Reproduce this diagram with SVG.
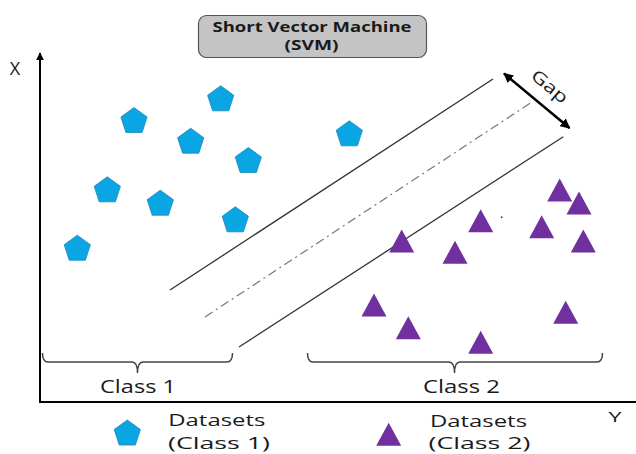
<svg xmlns="http://www.w3.org/2000/svg" width="636" height="454" viewBox="0 0 636 454">
<style>
.t{font-family:"Open Sans","Liberation Sans",sans-serif;fill:#1a1a1a}
.pent{fill:#0aa5e3;stroke:#1b86b8;stroke-width:0.8}
.tri{fill:#7030a0}
.axis{stroke:#000;stroke-width:2;fill:none}
.hyp{stroke:#333;stroke-width:1.3;fill:none}
.brace{stroke:#444;stroke-width:1.5;fill:none}
.lg{font-size:16px}
</style>
<defs>
<path id="pg" d="M0,-12.5 L13.1,-3 L8.1,12.5 L-8.1,12.5 L-13.1,-3 Z"/>
<path id="tg" d="M0,-11.5 L12.5,11.5 L-12.5,11.5 Z"/>
<marker id="ah" viewBox="0 0 10 10" refX="9" refY="5" markerWidth="4" markerHeight="4" orient="auto-start-reverse" markerUnits="strokeWidth">
<path d="M0,0 L10,5 L0,10 Z" fill="#000"/>
</marker>
</defs>
<rect width="636" height="454" fill="#fff"/>

<g id="title">
<rect x="198.5" y="15.5" width="228" height="42" rx="8" fill="#c4c4c4" stroke="#555" stroke-width="1.2"/>
<text class="t" x="312" y="31.5" font-size="14.5" font-weight="700" text-anchor="middle" textLength="199" lengthAdjust="spacingAndGlyphs">Short Vector Machine</text>
<text class="t" x="311.5" y="50" font-size="14.5" font-weight="700" text-anchor="middle" textLength="54" lengthAdjust="spacingAndGlyphs">(SVM)</text>
</g>

<g id="connectors">
<line class="axis" x1="40" y1="402" x2="40" y2="53" marker-end="url(#ah)"/>
<line class="axis" x1="39" y1="402" x2="640" y2="402"/>
<line class="hyp" x1="170" y1="290" x2="493" y2="79"/>
<line x1="205" y1="317" x2="530" y2="103.3" stroke="#777" stroke-width="1.2" stroke-dasharray="9 4 2 4"/>
<line class="hyp" x1="239" y1="347" x2="563.3" y2="136.7"/>
<line x1="504" y1="73.5" x2="569.5" y2="128" stroke="#000" stroke-width="2.5" marker-start="url(#ah)" marker-end="url(#ah)"/>
<path class="brace" d="M42.5,353 Q42.5,362 48,362 L132,362 Q137.5,362 137.5,373 Q137.5,362 143,362 L227,362 Q232.5,362 232.5,353"/>
<path class="brace" d="M307.5,353 Q307.5,362 313,362 L449,362 Q454.5,362 454.5,373 Q454.5,362 460,362 L597,362 Q602.5,362 602.5,353"/>
</g>

<g id="axis-labels">
<text class="t" x="15" y="75" font-size="18" text-anchor="middle">X</text>
<text class="t" x="615" y="421.5" font-size="15" text-anchor="middle" textLength="13" lengthAdjust="spacingAndGlyphs">Y</text>
<text class="t" x="0" y="0" font-size="17" text-anchor="middle" transform="translate(546,91) rotate(39.8)" textLength="42" lengthAdjust="spacingAndGlyphs">Gap</text>
<text class="t" x="138" y="392.5" font-size="19" text-anchor="middle" textLength="76" lengthAdjust="spacingAndGlyphs">Class 1</text>
<text class="t" x="461.5" y="392.5" font-size="19" text-anchor="middle" textLength="77" lengthAdjust="spacingAndGlyphs">Class 2</text>
</g>

<g id="class1-points">
<use href="#pg" class="pent" x="220.7" y="98.3"/>
<use href="#pg" class="pent" x="134" y="120"/>
<use href="#pg" class="pent" x="190.7" y="140.7"/>
<use href="#pg" class="pent" x="248.3" y="160"/>
<use href="#pg" class="pent" x="107.3" y="189.3"/>
<use href="#pg" class="pent" x="160.3" y="202.7"/>
<use href="#pg" class="pent" x="235.3" y="219.3"/>
<use href="#pg" class="pent" x="77.3" y="247.7"/>
<use href="#pg" class="pent" x="349.3" y="133.3"/>
</g>

<g id="class2-points">
<use href="#tg" class="tri" x="559.7" y="190"/>
<use href="#tg" class="tri" x="579" y="203"/>
<use href="#tg" class="tri" x="480.7" y="220.7"/>
<use href="#tg" class="tri" x="541.7" y="226.7"/>
<use href="#tg" class="tri" x="583.3" y="241"/>
<use href="#tg" class="tri" x="401.7" y="241"/>
<use href="#tg" class="tri" x="455" y="252.3"/>
<use href="#tg" class="tri" x="374" y="305"/>
<use href="#tg" class="tri" x="408.3" y="327.7"/>
<use href="#tg" class="tri" x="480.7" y="342.3"/>
<use href="#tg" class="tri" x="565.7" y="312.3"/>
<circle cx="501.7" cy="217.3" r="1" fill="#7030a0"/>
</g>

<g id="legend-class1">
<use href="#pg" class="pent" x="127.3" y="432.5"/>
<text class="t lg" x="168.3" y="426" textLength="97" lengthAdjust="spacingAndGlyphs">Datasets</text>
<text class="t lg" x="168" y="448.5" textLength="102" lengthAdjust="spacingAndGlyphs">(Class 1)</text>
</g>

<g id="legend-class2">
<use href="#tg" class="tri" x="388.7" y="434.2"/>
<text class="t lg" x="430" y="426.5" textLength="97" lengthAdjust="spacingAndGlyphs">Datasets</text>
<text class="t lg" x="428.5" y="449" textLength="102" lengthAdjust="spacingAndGlyphs">(Class 2)</text>
</g>
</svg>
